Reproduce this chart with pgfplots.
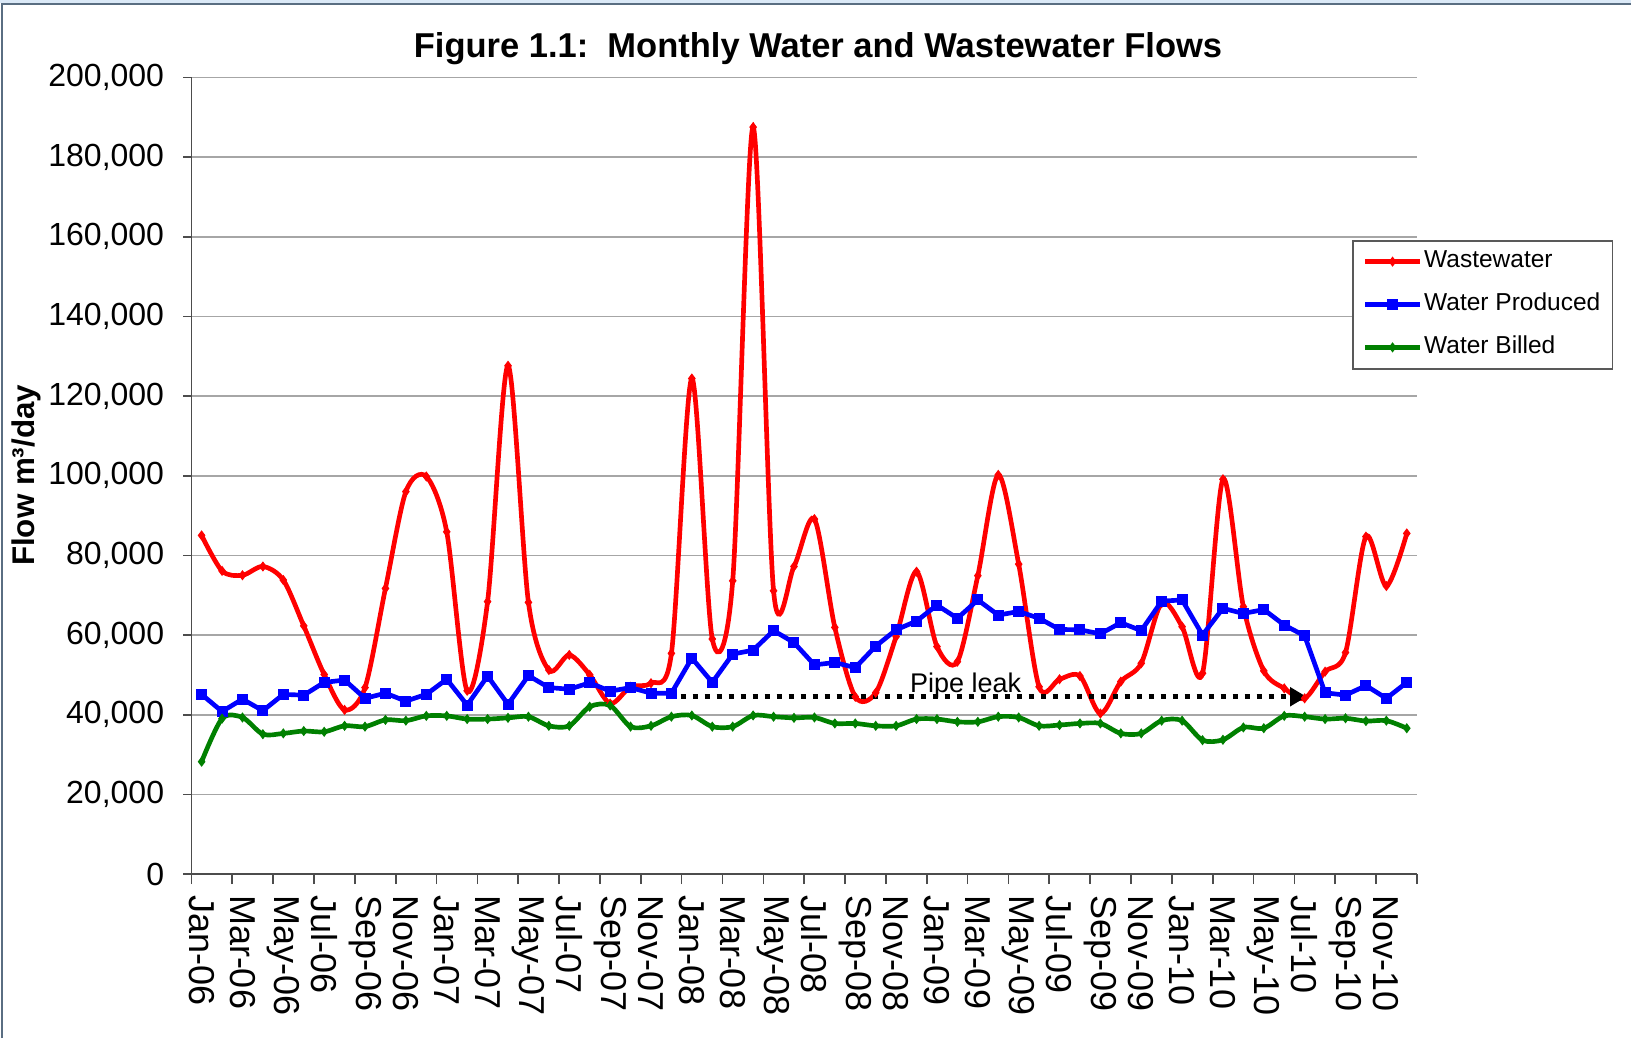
\documentclass[border=0pt]{standalone}
\usepackage{fontspec}
\setmainfont{Liberation Sans}
\usepackage{pgfplots}
\pgfplotsset{compat=1.18}
\usetikzlibrary{arrows.meta}

\definecolor{wwred}{RGB}{255,0,0}
\definecolor{wpblue}{RGB}{0,0,255}
\definecolor{wbgreen}{RGB}{0,128,0}
\definecolor{framecol}{RGB}{90,110,130}
\definecolor{framebg}{RGB}{219,233,247}

\pgfplotstableread{
idx ww wp wb
0 85000 45100 28200
1 76100 40800 39000
2 75000 43900 39300
3 77200 41000 35100
4 73800 45100 35300
5 62300 44900 35900
6 50100 48100 35700
7 41200 48700 37200
8 46800 44100 37000
9 71700 45400 38700
10 96000 43400 38500
11 99800 45100 39700
12 85900 48900 39700
13 46000 42400 38900
14 68400 49700 38900
15 127600 42600 39200
16 68200 49800 39500
17 51200 46800 37200
18 55000 46400 37200
19 50000 48000 42000
20 42800 45900 42300
21 47000 46800 37000
22 47900 45400 37200
23 55400 45400 39500
24 124400 54200 39800
25 59000 48100 37000
26 73600 55200 37000
27 187500 56200 39800
28 71100 61100 39500
29 77200 58100 39200
30 89100 52500 39300
31 61900 53100 37800
32 44500 51800 37800
33 45500 57200 37200
34 59600 61300 37200
35 75900 63500 38900
36 57100 67500 38900
37 53300 64200 38200
38 74900 68800 38200
39 100200 65000 39500
40 77800 65900 39300
41 47000 64200 37200
42 48900 61400 37400
43 49700 61300 37800
44 40300 60300 37800
45 48300 63100 35300
46 52900 61100 35300
47 68000 68500 38500
48 62100 68800 38500
49 50400 60000 33600
50 99100 66700 33700
51 67100 65400 36800
52 51000 66400 36600
53 46600 62500 39700
54 44100 59800 39500
55 50800 45500 38900
56 55600 44900 39100
57 84700 47300 38400
58 72300 44100 38500
59 85500 48100 36600
}\flows

\begin{document}
\begin{tikzpicture}
\useasboundingbox (-57.42pt,-49.2pt) rectangle (431.88pt,262.2pt);
\fill[white] (-57.42pt,-49.2pt) rectangle (431.88pt,262.2pt);
\fill[framebg] (-57.42pt,261.3pt) rectangle (431.88pt,262.2pt);
\draw[framecol, line width=0.6pt] (-56.9pt,-49.2pt) -- (-56.9pt,261.1pt) -- (431.88pt,261.1pt);
\begin{axis}[
  at={(0,0)}, anchor=south west,
  scale only axis, width=367.68pt, height=239.0pt,
  xmin=-0.5, xmax=59.5, ymin=0, ymax=200000,
  axis x line*=bottom, axis y line*=left,
  axis line style={gray!60!black, line width=0.5pt},
  ytick={0,20000,...,200000},
  scaled y ticks=false,
  /pgf/number format/.cd, fixed, 1000 sep={,}, assume math mode=true, /pgfplots/.cd,
  xtick={0,2,...,58},
  xticklabels={Jan-06,Mar-06,May-06,Jul-06,Sep-06,Nov-06,Jan-07,Mar-07,May-07,Jul-07,Sep-07,Nov-07,Jan-08,Mar-08,May-08,Jul-08,Sep-08,Nov-08,Jan-09,Mar-09,May-09,Jul-09,Sep-09,Nov-09,Jan-10,Mar-10,May-10,Jul-10,Sep-10,Nov-10},
  minor xtick={-0.5,1.5,...,59.5},
  major x tick style={draw=none},
  tick align=outside,
  major tick length=2.4pt, minor tick length=3pt,
  tick style={gray!60!black, line width=0.5pt},
  ymajorgrids, grid style={gray!70, line width=0.5pt},
  xticklabel style={rotate=-90, anchor=west, inner sep=0pt, xshift=3.7pt, font=\fontsize{10.8}{12}\selectfont},
  yticklabel style={anchor=east, inner sep=0pt, xshift=-5.6pt, font=\fontsize{9.6}{12}\selectfont},
  legend style={at={(0.947,0.796)}, anchor=north west, draw=gray!70!black, line width=0.5pt,
    font=\fontsize{7.35}{8.8}\selectfont, inner xsep=3pt, inner ysep=1pt, row sep=2.1pt,
    nodes={inner xsep=0.6pt}, cells={anchor=west}, fill=white},
  legend image code/.code={\draw[mark repeat=2,mark phase=2] plot coordinates {(0pt,0pt) (8.2pt,0pt) (16.4pt,0pt)};},
]
\addplot[wwred, line width=1.4pt, smooth, mark=diamond*, mark size=1.3pt, mark options={solid, line width=0.3pt}] table[x=idx, y=ww] {\flows};
\addlegendentry{Wastewater}
\addplot[wpblue, line width=1.4pt, mark=square*, mark size=1.5pt, mark options={solid, line width=0.3pt}] table[x=idx, y=wp] {\flows};
\addlegendentry{Water Produced}
\addplot[wbgreen, line width=1.4pt, smooth, mark=diamond*, mark size=1.3pt, mark options={solid, line width=0.3pt}] table[x=idx, y=wb] {\flows};
\addlegendentry{Water Billed}
\draw[black, line width=1.4pt, dash pattern=on 1.5pt off 2.1pt, -{Triangle[length=5pt,width=5.5pt]}] (axis cs:23.45,44500) -- (axis cs:54.1,44500);
\node[anchor=base, font=\fontsize{8.1}{10}\selectfont, inner sep=0pt] at (axis cs:37.4,45500) {Pipe leak};
\end{axis}
\node[anchor=base, font=\bfseries\fontsize{10.35}{12}\selectfont, inner sep=0pt] at (187.98pt,245.04pt) {Figure 1.1:\ \ Monthly Water and Wastewater Flows};
\node[rotate=90, font=\bfseries\fontsize{9.4}{11}\selectfont, inner sep=0pt] at (-49.6pt,119.58pt) {Flow m³/day};
\end{tikzpicture}
\end{document}
